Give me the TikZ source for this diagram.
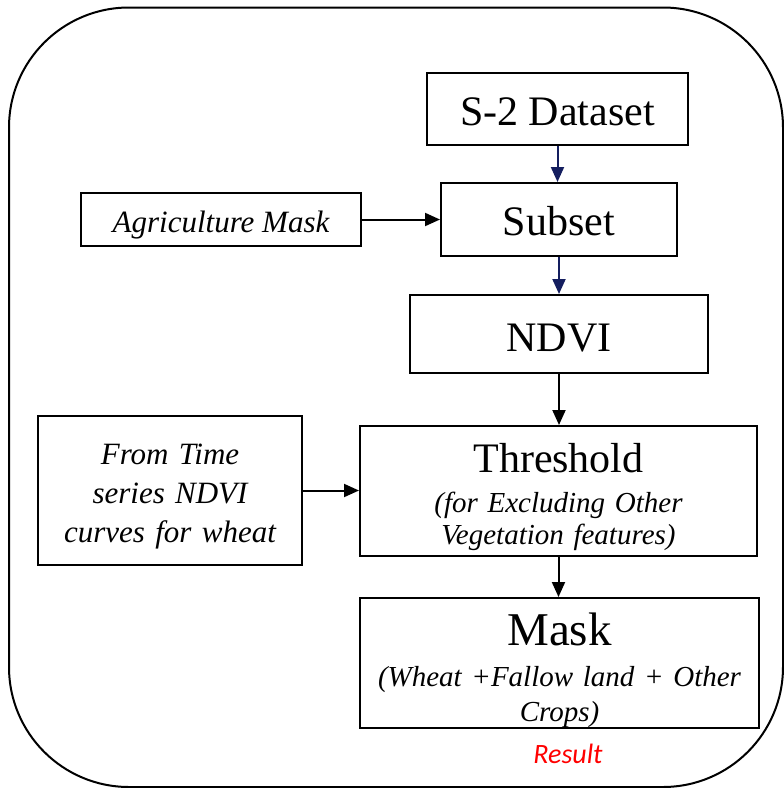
\documentclass[tikz,border=0pt]{standalone}
\usepackage{fontspec}
\setmainfont{Liberation Serif}
\newfontfamily\resultfont{Carlito}
\usetikzlibrary{arrows.meta}
\definecolor{navyarrow}{RGB}{20,30,95}
\definecolor{resultred}{RGB}{255,0,0}
\newcommand{\headfont}{\fontsize{42}{44}\selectfont}
\newcommand{\subfont}{\fontsize{29}{32.5}\selectfont\itshape}
\begin{document}
\begin{tikzpicture}[x=1pt,y=-1pt,
  box/.style={draw, line width=2pt, inner sep=0pt, align=center},
  flow/.style={-{Triangle[length=15pt,width=13pt]}, line width=2pt}]
\useasboundingbox (0,0) rectangle (784,788);
% outer frame
\draw[line width=2pt, rounded corners=120pt] (9,7.5) rectangle (783,787);

% main chain (text height/depth place the first baseline inside each box)
\node[box, minimum width=261pt, minimum height=72pt, font=\headfont, text height=32pt, text depth=0pt] (s2) at (557.5,109) {S-2 Dataset};
\node[box, minimum width=236pt, minimum height=73pt, font=\headfont, text height=31pt, text depth=0pt] (subset) at (559,219.5) {Subset};
\node[box, minimum width=298pt, minimum height=78pt, font=\headfont, text height=34pt, text depth=0pt] (ndvi) at (559,334) {NDVI};
\node[box, minimum width=397pt, minimum height=130pt, text width=390pt, font=\subfont, text height=31pt, text depth=68pt] (thr) at (558.5,491)
  {{\fontsize{42}{32.5}\selectfont\upshape Threshold}\\[7pt] (for Excluding Other\\ Vegetation features)};
\node[box, minimum width=399pt, minimum height=130pt, text width=390pt, font=\fontsize{29}{35.5}\selectfont\itshape, text height=35pt, text depth=70pt] (mask) at (559.5,663)
  {{\fontsize{47}{35.5}\selectfont\upshape Mask}\\[5pt] (Wheat +Fallow land + Other\\ Crops)};

% side inputs
\node[box, minimum width=280pt, minimum height=53pt, font=\fontsize{31}{34}\selectfont\itshape, text height=25pt, text depth=0pt] (agri) at (221,219.5) {Agriculture Mask};
\node[box, minimum width=264pt, minimum height=149pt, text width=250pt, font=\fontsize{31}{39}\selectfont\itshape, text height=24pt, text depth=77pt] (ts) at (170,490.5)
  {From Time\\ series NDVI\\ curves for wheat};

% result label
\node[font=\resultfont\itshape\fontsize{28}{30}\selectfont, text=resultred, anchor=base] (res) at (568,763) {Result};

% connectors
\draw[flow, navyarrow] (s2.south) -- (s2.south |- subset.north);
\draw[flow, navyarrow] (subset.south) -- (subset.south |- ndvi.north);
\draw[flow] (ndvi.south) -- (ndvi.south |- thr.north);
\draw[flow] (thr.south) -- (thr.south |- mask.north);
\draw[flow] (agri.east) -- (agri.east -| subset.west);
\draw[flow] (ts.east) -- (ts.east -| thr.west);
\end{tikzpicture}
\end{document}
